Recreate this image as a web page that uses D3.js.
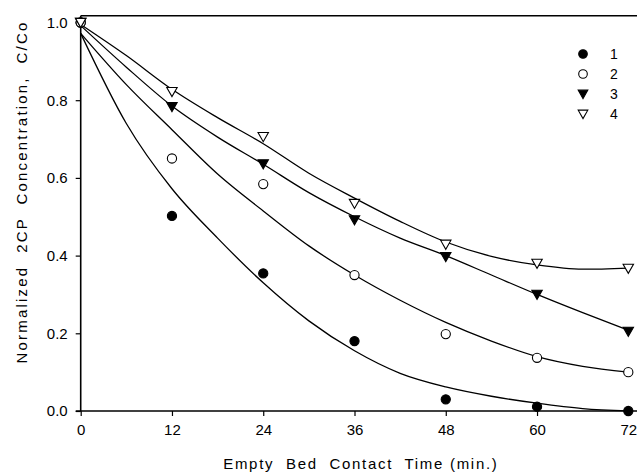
<!DOCTYPE html>
<html>
<head>
<meta charset="utf-8">
<script src="https://cdn.jsdelivr.net/npm/d3@7"></script>
<style>
  html, body { margin: 0; padding: 0; background: #fff; }
  svg { display: block; }
  text { font-family: "Liberation Sans", Arial, Helvetica, sans-serif; fill: #000; }
</style>
</head>
<body>
<script>
// ---------- data ----------
const times = [0, 12, 24, 36, 48, 60, 72];
const series1 = [1.0, 0.502, 0.354, 0.180, 0.030, 0.011, 0.0];
const series2 = [1.0, 0.650, 0.584, 0.350, 0.198, 0.137, 0.100];
const series3 = [1.0, 0.783, 0.636, 0.492, 0.397, 0.300, 0.205];
const series4 = [1.0, 0.822, 0.706, 0.534, 0.429, 0.380, 0.367];

// fitted curves
const fitTimes = [0, 6, 12, 18, 24, 30, 36, 42, 48, 54, 60, 66, 72];
const fit1 = [0.972, 0.740, 0.572, 0.445, 0.330, 0.232, 0.155, 0.097, 0.062, 0.038, 0.020, 0.006, 0.0];
const fit2 = [0.972, 0.840, 0.724, 0.610, 0.515, 0.425, 0.350, 0.285, 0.228, 0.180, 0.140, 0.115, 0.100];
const fit3 = [0.992, 0.885, 0.785, 0.705, 0.635, 0.562, 0.500, 0.445, 0.400, 0.350, 0.300, 0.253, 0.208];
const fit4 = [0.995, 0.915, 0.828, 0.755, 0.688, 0.612, 0.548, 0.488, 0.435, 0.398, 0.376, 0.365, 0.368];

const xTicks = [0, 12, 24, 36, 48, 60, 72];
const yTicks = [0.0, 0.2, 0.4, 0.6, 0.8, 1.0];
const legendLabels = ["1", "2", "3", "4"];
const xTitle = "Empty  Bed  Contact  Time (min.)";
const yTitle = "Normalized  2CP  Concentration,  C/Co";

// ---------- layout ----------
const W = 637, H = 475;
const svg = d3.select("body").append("svg").attr("width", W).attr("height", H);

const x = d3.scaleLinear().domain([0, 72]).range([80.7, 628.3]);
const y = d3.scaleLinear().domain([0, 1]).range([411, 22.5]);
const xRight = W;
const yTop = y(1.0175);

// clip for curves
svg.append("defs").append("clipPath").attr("id", "plot")
  .append("rect").attr("x", x(0)).attr("y", yTop).attr("width", xRight - x(0)).attr("height", y(0) - yTop + 0.5);

// frame: top border
svg.append("line").attr("x1", x(0)).attr("x2", xRight).attr("y1", yTop).attr("y2", yTop)
  .attr("stroke", "#000").attr("stroke-width", 1.6);

// axes
const xAxis = d3.axisBottom(x).tickValues(xTicks).tickSize(5).tickPadding(8).tickFormat(d3.format("d"));
const gx = svg.append("g").attr("transform", `translate(0,${y(0)})`).call(xAxis);
gx.select(".domain").remove();
gx.append("line").attr("x1", x(0) - 5).attr("x2", xRight).attr("y1", 0).attr("y2", 0)
  .attr("stroke", "#000").attr("stroke-width", 1.6);
gx.selectAll(".tick line").attr("stroke", "#000").attr("stroke-width", 1.2);
gx.selectAll(".tick text").attr("font-size", 15).attr("fill", "#000")
  .style("font-family", '"Liberation Sans", Arial, sans-serif');

const yAxis = d3.axisLeft(y).tickValues(yTicks).tickSize(5).tickPadding(8).tickFormat(d3.format(".1f"));
const gy = svg.append("g").attr("transform", `translate(${x(0)},0)`).call(yAxis);
gy.select(".domain").remove();
gy.append("line").attr("x1", 0).attr("x2", 0).attr("y1", yTop).attr("y2", y(0))
  .attr("stroke", "#000").attr("stroke-width", 1.6);
gy.selectAll(".tick line").attr("stroke", "#000").attr("stroke-width", 1.2);
gy.selectAll(".tick text").attr("font-size", 15).attr("fill", "#000")
  .style("font-family", '"Liberation Sans", Arial, sans-serif');

// axis titles
svg.append("text").attr("x", (x(0) + xRight) / 2 + 2).attr("y", 469)
  .attr("text-anchor", "middle").attr("font-size", 15).style("letter-spacing", "1.7px")
  .style("white-space", "pre").text(xTitle);
svg.append("text").attr("transform", `translate(27,192) rotate(-90)`)
  .attr("text-anchor", "middle").attr("font-size", 15).style("letter-spacing", "2.2px")
  .style("white-space", "pre").text(yTitle);

// ---------- curves ----------
const line = d3.line().x((d, i) => x(fitTimes[i])).y(d => y(d)).curve(d3.curveMonotoneX);
const gCurves = svg.append("g").attr("clip-path", "url(#plot)");
[fit1, fit2, fit3, fit4].forEach(f => {
  gCurves.append("path").attr("d", line(f)).attr("fill", "none")
    .attr("stroke", "#000").attr("stroke-width", 1.3);
});

// ---------- markers ----------
const tri = r => `M${-r},${-r * 0.8}L${r},${-r * 0.8}L0,${r * 0.95}Z`;
const styles = [
  {type: "circle", fill: "#000"},
  {type: "circle", fill: "#fff"},
  {type: "tri", fill: "#000"},
  {type: "tri", fill: "#fff"}
];
function marker(g, st, cx, cy, r) {
  if (st.type === "circle") {
    g.append("circle").attr("cx", cx).attr("cy", cy).attr("r", r)
      .attr("fill", st.fill).attr("stroke", "#000").attr("stroke-width", 1.1);
  } else {
    g.append("path").attr("d", tri(r)).attr("transform", `translate(${cx},${cy})`)
      .attr("fill", st.fill).attr("stroke", "#000").attr("stroke-width", 1.1);
  }
}
const gPts = svg.append("g");
[series1, series2, series3, series4].forEach((s, k) => {
  s.forEach((v, i) => marker(gPts, styles[k], x(times[i]), y(v), k < 2 ? 4.6 : 5.2));
});

// ---------- legend ----------
const gLeg = svg.append("g");
legendLabels.forEach((lab, k) => {
  const ly = 54 + k * 20;
  marker(gLeg, styles[k], 583, ly, k < 2 ? 4.3 : 4.8);
  gLeg.append("text").attr("x", 610).attr("y", ly + 5).attr("font-size", 14).text(lab);
});
</script>
</body>
</html>
